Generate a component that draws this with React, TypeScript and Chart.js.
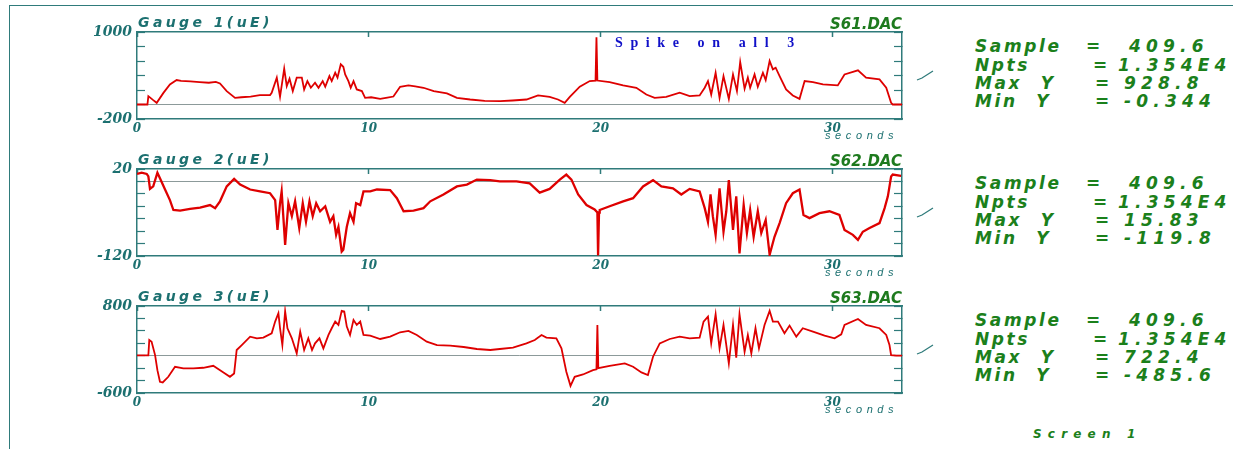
import React, { useEffect, useRef } from 'react';
import { Chart, registerables } from 'chart.js';

Chart.register(...registerables);

// ---------- data ----------
const G1_T = [0, 0.45, 0.49, 0.7, 0.85, 1.14, 1.42, 1.71, 1.9, 2.3, 2.7, 3.1, 3.4, 3.58, 3.87, 4.23, 4.5, 4.9, 5.3, 5.74, 5.81, 6.03, 6.17, 6.35, 6.46, 6.58, 6.72, 6.89, 7.11, 7.21, 7.35, 7.5, 7.68, 7.83, 8.01, 8.12, 8.3, 8.4, 8.55, 8.65, 8.79, 8.9, 8.98, 9.12, 9.22, 9.34, 9.48, 9.7, 9.84, 10.1, 10.49, 10.8, 11.06, 11.35, 11.71, 12.0, 12.36, 12.8, 13.37, 13.8, 14.37, 15.0, 15.67, 16.2, 16.8, 17.3, 17.8, 18.16, 18.45, 18.67, 19.1, 19.53, 19.78, 19.82, 19.86, 20.39, 20.97, 21.54, 21.97, 22.33, 22.83, 23.41, 23.84, 24.27, 24.49, 24.63, 24.77, 24.96, 25.13, 25.3, 25.53, 25.71, 25.88, 26.02, 26.21, 26.35, 26.45, 26.64, 26.78, 27.0, 27.12, 27.29, 27.43, 27.55, 27.72, 28.0, 28.29, 28.58, 28.8, 29.16, 29.59, 30.23, 30.52, 31.1, 31.45, 32.03, 32.32, 32.53, 32.6, 33];
const G1_V = [0, 0, 115, 60, 23, 160, 277, 337, 325, 318, 310, 300, 312, 290, 185, 92, 100, 110, 130, 130, 162, 370, 106, 494, 254, 355, 185, 370, 370, 208, 323, 231, 300, 231, 323, 245, 392, 323, 438, 370, 554, 521, 415, 323, 231, 323, 208, 185, 92, 100, 78, 95, 110, 245, 263, 250, 231, 185, 152, 92, 69, 50, 46, 55, 69, 125, 106, 69, 23, 106, 245, 323, 330, 928, 330, 309, 263, 231, 138, 92, 106, 162, 115, 125, 231, 323, 138, 438, 92, 392, 78, 415, 185, 586, 217, 370, 231, 415, 245, 438, 337, 600, 485, 508, 392, 208, 125, 78, 323, 309, 277, 263, 415, 471, 370, 346, 231, 23, 0, 0];

const G2_T = [0, 0.2, 0.42, 0.49, 0.56, 0.7, 0.88, 0.99, 1.21, 1.42, 1.57, 1.86, 2.29, 2.72, 3.15, 3.37, 3.58, 3.87, 4.19, 4.45, 4.88, 5.31, 5.74, 5.96, 6.06, 6.17, 6.24, 6.35, 6.39, 6.53, 6.68, 6.82, 7.0, 7.15, 7.29, 7.44, 7.58, 7.73, 7.9, 8.12, 8.33, 8.47, 8.59, 8.69, 8.83, 8.9, 9.05, 9.19, 9.34, 9.45, 9.63, 9.77, 10.06, 10.35, 10.92, 11.21, 11.5, 11.93, 12.36, 12.65, 13.22, 13.8, 14.23, 14.66, 15.24, 15.65, 16.37, 16.94, 17.37, 17.8, 18.24, 18.52, 18.74, 19.03, 19.39, 19.74, 19.86, 19.89, 19.93, 19.96, 20.39, 20.97, 21.4, 21.83, 22.26, 22.62, 23.12, 23.48, 23.84, 24.27, 24.49, 24.63, 24.74, 24.84, 24.96, 25.13, 25.3, 25.42, 25.53, 25.71, 25.85, 25.99, 26.17, 26.31, 26.45, 26.6, 26.78, 26.93, 27.12, 27.29, 27.5, 27.72, 28.0, 28.29, 28.58, 28.75, 29.01, 29.44, 29.87, 30.3, 30.52, 30.88, 31.1, 31.31, 31.6, 32.03, 32.25, 32.39, 32.53, 32.6, 32.96];
const G2_V = [12, 14, 12, 8, -12, -8, 14, 5, -13, -30, -46, -47, -44, -42, -38, -43, -32, -8, 4, -5, -13, -16, -19, -30, -78, -35, -16, -78, -102, -35, -56, -32, -75, -35, -65, -32, -56, -35, -48, -40, -65, -56, -86, -73, -113, -110, -73, -51, -65, -35, -38, -16, -16, -13, -14, -27, -48, -47, -43, -32, -21, -8, -5, 3, 2, 0, 0, -3, -18, -12, 3, 11, 3, -21, -38, -45, -50, -119, -50, -46, -40, -32, -27, -8, 2, -8, -11, -21, -12, -16, -43, -65, -21, -56, -86, -11, -81, -48, 2, -78, -24, -116, -38, -83, -46, -89, -48, -83, -62, -118, -89, -67, -35, -19, -13, -54, -59, -51, -48, -54, -78, -86, -94, -81, -75, -67, -43, -24, 8, 11, 9];

const G3_T = [0, 0.49, 0.53, 0.63, 0.78, 0.88, 0.99, 1.11, 1.35, 1.64, 2.0, 2.43, 2.86, 3.29, 3.73, 4.01, 4.19, 4.3, 4.52, 4.88, 5.17, 5.45, 5.81, 5.96, 6.1, 6.17, 6.27, 6.39, 6.49, 6.68, 6.89, 7.04, 7.21, 7.39, 7.55, 7.68, 7.87, 8.04, 8.26, 8.4, 8.55, 8.69, 8.83, 8.94, 9.05, 9.19, 9.34, 9.48, 9.63, 9.77, 10.06, 10.49, 10.92, 11.35, 11.71, 12.07, 12.5, 12.94, 13.51, 14.09, 14.66, 15.24, 15.65, 16.22, 16.8, 17.16, 17.45, 17.66, 18.09, 18.31, 18.52, 18.7, 18.88, 19.24, 19.67, 19.82, 19.86, 19.9, 20.39, 21.04, 21.4, 21.76, 22.04, 22.26, 22.55, 22.98, 23.41, 23.84, 24.27, 24.44, 24.63, 24.77, 24.96, 25.13, 25.3, 25.53, 25.71, 25.85, 25.99, 26.21, 26.35, 26.5, 26.68, 26.83, 27.07, 27.29, 27.43, 27.65, 27.93, 28.15, 28.44, 28.72, 29.16, 29.66, 30.09, 30.38, 30.52, 31.1, 31.45, 32.03, 32.32, 32.46, 32.53, 32.75, 33];
const G3_V = [5, 5, 253, 226, 10, -232, -420, -431, -339, -178, -205, -205, -194, -162, -269, -339, -285, 92, 172, 307, 280, 291, 361, 549, 684, 442, 172, 715, 442, 280, 38, 388, 92, 280, 92, 199, 280, 118, 334, 442, 549, 495, 722, 711, 468, 334, 576, 495, 549, 334, 323, 269, 307, 377, 398, 334, 226, 172, 162, 140, 108, 92, 108, 129, 199, 253, 334, 291, 280, 118, -258, -485, -339, -302, -232, -220, 495, -200, -162, -124, -178, -269, -312, -16, 199, 269, 307, 280, 291, 549, 630, 199, 668, 118, 495, -124, 495, -32, 668, 65, 334, 38, 442, 118, 495, 722, 549, 549, 361, 485, 307, 442, 388, 323, 280, 345, 495, 592, 495, 442, 334, 172, 10, 0, 0];

const TITLES = ['Gauge 1(uE)', 'Gauge 2(uE)', 'Gauge 3(uE)'];
const FILES = ['S61.DAC', 'S62.DAC', 'S63.DAC'];
const Y_MIN = [-200, -120, -600];
const Y_MAX = [1000, 20, 800];
const Y_STEP = [200, 20, 200];
const X_TICKS = [0, 10, 20, 30];
const X_MAX = 33;
const STAT_LABELS = ['Sample', 'Npts', 'Max Y', 'Min Y'];
const STAT_VALUES = [
  ['409.6', '1.354E4', '928.8', '-0.344'],
  ['409.6', '1.354E4', '15.83', '-119.8'],
  ['409.6', '1.354E4', '722.4', '-485.6'],
];
const NOTE = 'Spike on all 3';
const FOOTER = 'Screen 1';
const X_UNIT = 'seconds';

// ---------- styling ----------
const RED = '#de0000';
const FRAME = '#2f7b7b';
const TEAL = '#1c7070';
const GREEN = '#1b801b';
const ZERO = '#8c9a9a';
const PANEL_TOP = [32, 169, 306];
const PLOT_LEFT = 137;
const PLOT_RIGHT = 902;
const PLOT_H = 87;
const CANVAS_LEFT = 60;
const CANVAS_W = 860;
const PAD_TOP = 12;
const X_AXIS_H = 20;

const SANS = '"DejaVu Sans", sans-serif';
const LSANS = '"Liberation Sans", Arial, sans-serif';
const SERIF = '"DejaVu Serif", serif';

function makeChart(canvas: HTMLCanvasElement, idx: number, times: number[], values: number[], lw: number) {
  const min = Y_MIN[idx];
  const max = Y_MAX[idx];
  const step = Y_STEP[idx];
  const tickFont = { family: SERIF, weight: 'bold' as const, style: 'italic' as const };
  const noPad = (s: any) => {
    s.paddingTop = 0;
    s.paddingBottom = 0;
    s.paddingLeft = 0;
    s.paddingRight = 0;
  };
  return new Chart(canvas, {
    type: 'line',
    data: {
      datasets: [
        {
          data: times.map((t, i) => ({ x: t, y: values[i] })),
          borderColor: RED,
          borderWidth: lw,
          pointRadius: 0,
          tension: 0,
          xAxisID: 'x',
          yAxisID: 'y',
        },
      ],
    },
    options: {
      animation: false,
      responsive: false,
      maintainAspectRatio: false,
      events: [],
      layout: { padding: { top: PAD_TOP, right: CANVAS_LEFT + CANVAS_W - PLOT_RIGHT, left: 0, bottom: 0 } },
      plugins: { legend: { display: false }, tooltip: { enabled: false } },
      scales: {
        x: {
          type: 'linear',
          position: 'bottom',
          min: 0,
          max: X_MAX,
          ticks: {
            stepSize: 10,
            includeBounds: false,
            autoSkip: false,
            maxRotation: 0,
            color: TEAL,
            padding: 3,
            font: { ...tickFont, size: 12 },
            callback: (v: any) => (X_TICKS.includes(Number(v)) ? String(v) : ''),
          },
          grid: { display: false, drawTicks: false },
          border: { display: true, color: FRAME, width: 1.5 },
          afterFit: (s: any) => {
            s.height = X_AXIS_H;
            noPad(s);
          },
        },
        xt: {
          type: 'linear',
          position: 'top',
          min: 0,
          max: X_MAX,
          ticks: { display: false, stepSize: 10, includeBounds: false },
          grid: { drawOnChartArea: false, drawTicks: true, tickLength: -5, tickColor: FRAME, tickWidth: 1.5 },
          border: { display: true, color: FRAME, width: 1.5 },
          afterFit: (s: any) => {
            s.height = 0;
            noPad(s);
          },
        },
        y: {
          type: 'linear',
          position: 'left',
          min,
          max,
          ticks: {
            stepSize: step,
            autoSkip: false,
            color: TEAL,
            padding: 13,
            font: { ...tickFont, size: 14 },
            callback: (v: any) => (Number(v) === min || Number(v) === max ? String(v) : ''),
          },
          grid: {
            drawOnChartArea: true,
            drawTicks: true,
            tickLength: -8,
            tickColor: FRAME,
            tickWidth: 1.2,
            lineWidth: 1,
            color: (c: any) => (c.tick && c.tick.value === 0 ? ZERO : 'rgba(0,0,0,0)'),
          },
          border: { display: true, color: FRAME, width: 1.5 },
          afterFit: (s: any) => {
            s.width = PLOT_LEFT - CANVAS_LEFT;
            noPad(s);
          },
        },
        yr: {
          type: 'linear',
          position: 'right',
          min,
          max,
          ticks: { display: false, stepSize: step },
          grid: { drawOnChartArea: false, drawTicks: true, tickLength: -8, tickColor: FRAME, tickWidth: 1.2 },
          border: { display: true, color: FRAME, width: 1.5 },
          afterFit: (s: any) => {
            s.width = 0;
            noPad(s);
          },
        },
      },
    } as any,
  });
}

const abs = (left: number, top: number, extra: React.CSSProperties = {}): React.CSSProperties => ({
  position: 'absolute',
  left,
  top,
  whiteSpace: 'pre',
  lineHeight: 1,
  margin: 0,
  ...extra,
});

const STAT_EQ_X = [1086, 1093, 1095, 1095];
const STAT_VAL_X = [1129, 1118, 1124, 1124];

export default function App() {
  const c1 = useRef<HTMLCanvasElement>(null);
  const c2 = useRef<HTMLCanvasElement>(null);
  const c3 = useRef<HTMLCanvasElement>(null);

  useEffect(() => {
    const charts = [
      makeChart(c1.current!, 0, G1_T, G1_V, 1.8),
      makeChart(c2.current!, 1, G2_T, G2_V, 2.3),
      makeChart(c3.current!, 2, G3_T, G3_V, 1.8),
    ];
    return () => charts.forEach((c) => c.destroy());
  }, []);

  const refs = [c1, c2, c3];
  const canvasH = PAD_TOP + PLOT_H + X_AXIS_H;

  return (
    <div style={{ position: 'absolute', left: 0, top: 0, width: 1233, height: 451, background: '#fff', overflow: 'hidden' }}>
      <div style={{ position: 'absolute', left: 9, top: 5, width: 1230, height: 443, borderLeft: `1px solid ${FRAME}`, borderTop: `1px solid ${FRAME}` }} />
      {refs.map((r, i) => {
        const top = PANEL_TOP[i];
        return (
          <React.Fragment key={i}>
            <canvas
              ref={r}
              width={CANVAS_W}
              height={canvasH}
              style={{ position: 'absolute', left: CANVAS_LEFT, top: top - PAD_TOP, width: CANVAS_W, height: canvasH }}
            />
            <div style={abs(138, top - 18, { font: `italic bold 14px ${SANS}`, color: TEAL, letterSpacing: '3.4px' })}>{TITLES[i]}</div>
            <div style={abs(0, top - 16.8, { width: PLOT_RIGHT, textAlign: 'right', font: `italic bold 15px ${SANS}`, color: '#1e7a1e' })}>{FILES[i]}</div>
            <div style={abs(825, top + PLOT_H + 9.7, { font: `italic 11px ${LSANS}`, color: TEAL, letterSpacing: '4.6px' })}>{X_UNIT}</div>
            <svg style={{ position: 'absolute', left: 910, top: top + 34, width: 30, height: 20 }} viewBox="0 0 30 20">
              <polyline points="7,14 12,12 23,5" fill="none" stroke={FRAME} strokeWidth="1.3" />
            </svg>
            {STAT_LABELS.map((lab, j) => {
              const y = top + 4.4 + j * 18.3;
              const f = `italic bold 17px ${SANS}`;
              return (
                <React.Fragment key={j}>
                  <div style={abs(975, y, { font: f, color: GREEN, letterSpacing: '2.6px', wordSpacing: '10px', lineHeight: '18.3px' })}>{lab}</div>
                  <div style={abs(STAT_EQ_X[j], y, { font: f, color: GREEN, lineHeight: '18.3px' })}>=</div>
                  <div style={abs(STAT_VAL_X[j], y, { font: f, color: GREEN, letterSpacing: '5.2px', lineHeight: '18.3px' })}>{STAT_VALUES[i][j]}</div>
                </React.Fragment>
              );
            })}
          </React.Fragment>
        );
      })}
      <div style={abs(615, 34.5, { font: `bold 14px "Liberation Serif", serif`, color: '#1010c8', letterSpacing: '7.6px' })}>{NOTE}</div>
      <div style={abs(1033, 426.5, { font: `italic bold 12px ${SANS}`, color: GREEN, letterSpacing: '6.2px' })}>{FOOTER}</div>
    </div>
  );
}
